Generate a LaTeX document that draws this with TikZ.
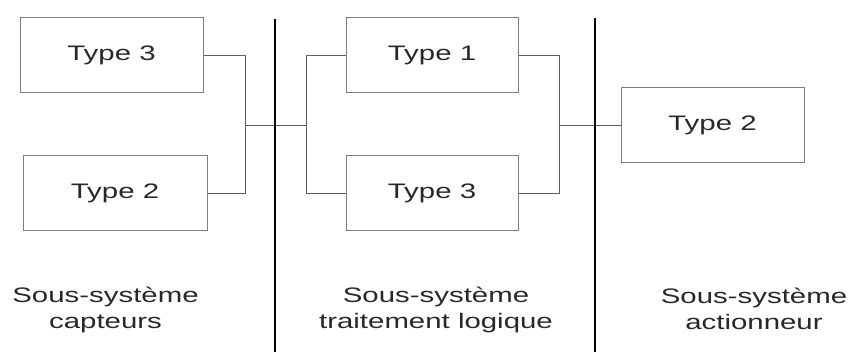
\documentclass[tikz,border=0pt]{standalone}
\usepackage{fontspec}
\setmainfont[FakeStretch=1.4]{Liberation Sans}
\usetikzlibrary{positioning,calc}
\definecolor{boxgray}{RGB}{125,125,125}
\definecolor{linegray}{RGB}{95,95,95}
\definecolor{txtgray}{RGB}{40,40,40}
\tikzset{
	bloc/.style={draw=boxgray,line width=1pt,minimum height=75pt,inner sep=0pt,
		text=txtgray,font=\fontsize{21}{26}\selectfont},
	liaison/.style={draw=linegray,line width=0.8pt},
	frontiere/.style={draw=black,line width=1.3pt},
	soustitre/.style={align=center,inner sep=0pt,text=txtgray,font=\fontsize{21}{26}\selectfont}
}
\begin{document}
\begin{tikzpicture}[x=1pt,y=-1pt]
				\useasboundingbox (0,0) rectangle (851,352);
				\node[bloc,minimum width=183pt] (capA) at (111.5,55.5) {Type 3};
				\node[bloc,minimum width=184pt] (capB) at (115,193) {Type 2};
				\node[bloc,minimum width=172pt] (logA) at (432,55.5) {Type 1};
				\node[bloc,minimum width=172pt] (logB) at (432,193) {Type 3};
				\node[bloc,minimum width=183pt] (act) at (712.5,125.5) {Type 2};
				\coordinate (jA) at (245,125);
				\coordinate (jB) at (306,125);
				\coordinate (jC) at (559,125.5);
				\draw[liaison] (capA.east) -- (capA.east -| jA) -- (capB.east -| jA) -- (capB.east);
				\draw[liaison] (jA) -- (jB);
				\draw[liaison] (logA.west) -- (logA.west -| jB) -- (logB.west -| jB) -- (logB.west);
				\draw[liaison] (logA.east) -- (logA.east -| jC) -- (logB.east -| jC) -- (logB.east);
				\draw[liaison] (jC) -- (act.west);
				\coordinate (fA) at (275,19);
				\coordinate (fB) at (595,18);
				\draw[frontiere] (fA) -- (fA |- 0,352);
				\draw[frontiere] (fB) -- (fB |- 0,352);
				\node[soustitre] (ssA) at (105.5,310) {Sous-système\\capteurs};
				\node[soustitre] (ssB) at (436,310) {Sous-système\\traitement logique};
				\node[soustitre] (ssC) at (754,309) {Sous-système\\actionneur};
			\end{tikzpicture}
\end{document}
